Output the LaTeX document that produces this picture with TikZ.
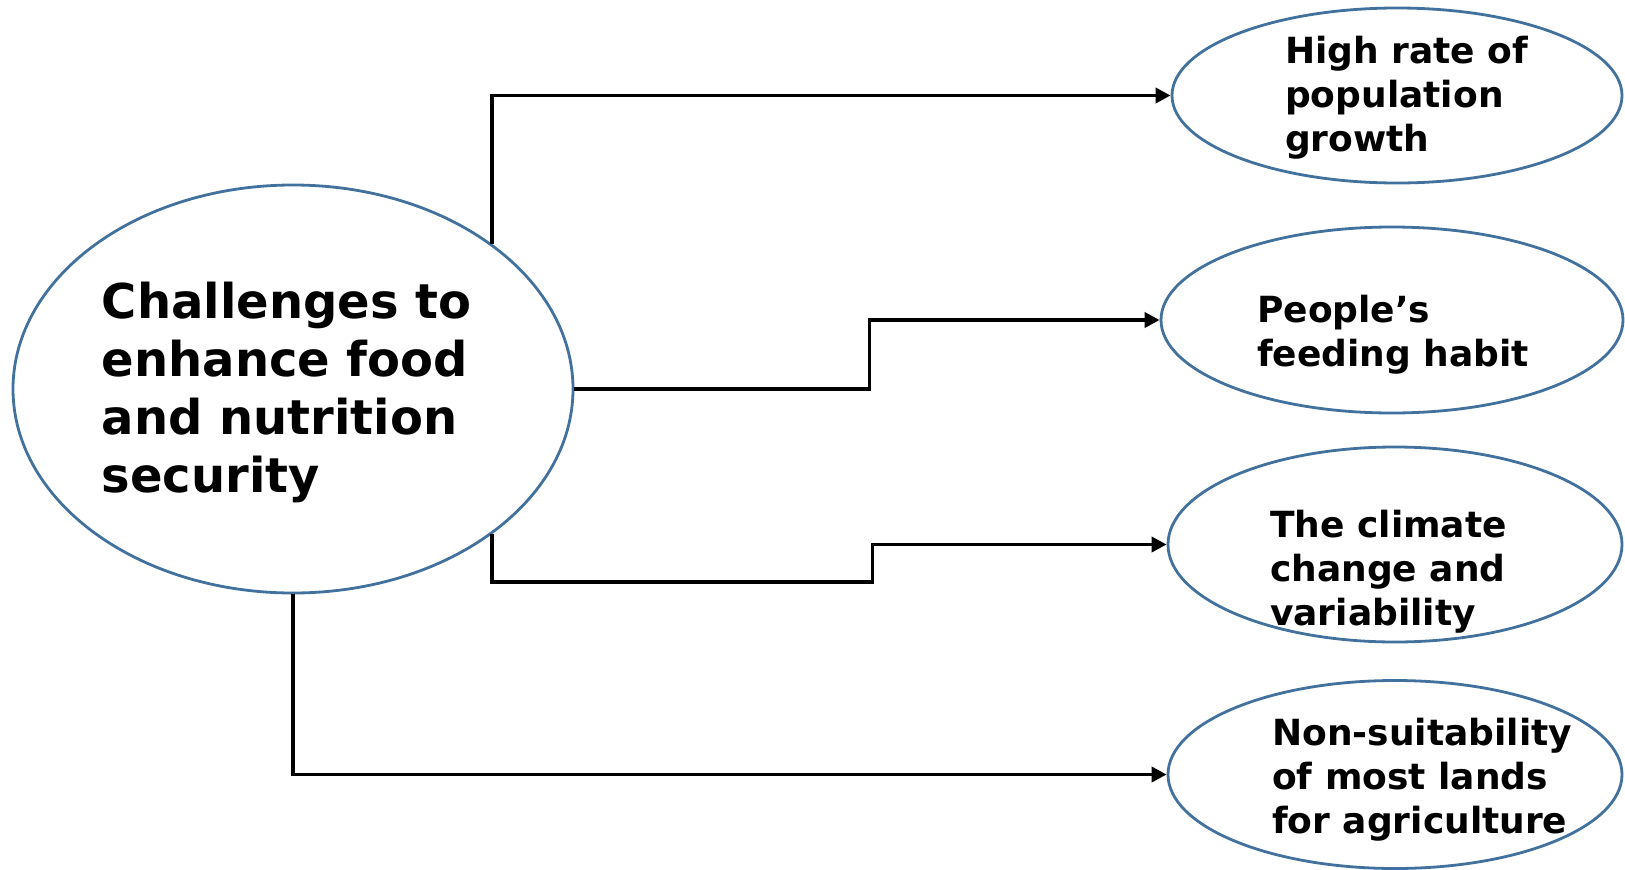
\documentclass[tikz,border=0pt]{standalone}
\usepackage{fontspec}
\setmainfont{DejaVu Sans}
\usetikzlibrary{shapes.geometric,arrows.meta}
\definecolor{rim}{RGB}{65,113,156}
\begin{document}
\begin{tikzpicture}[x=1pt,y=-1pt,
  oval/.style={ellipse,draw=rim,line width=2.8pt,inner sep=0pt,fill=white},
  link/.style={line width=3.8pt,draw=black,-{Triangle[length=15pt,width=15pt]}},
  bigtext/.style={anchor=base west,inner sep=0pt,align=left,
    font=\fontsize{48}{58}\selectfont\bfseries},
  smalltext/.style={anchor=base west,inner sep=0pt,align=left,
    font=\fontsize{36}{44}\selectfont\bfseries}]
\useasboundingbox (0,0) rectangle (1625,870);

% central challenge and the four causes
\node[oval,minimum width=560pt,minimum height=408pt] (c) at (293,389) {};
\node[oval,minimum width=450pt,minimum height=175pt] (e1) at (1397,95.5) {};
\node[oval,minimum width=462pt,minimum height=186pt] (e2) at (1392,320) {};
\node[oval,minimum width=454pt,minimum height=195pt] (e3) at (1395,544.5) {};
\node[oval,minimum width=454pt,minimum height=188pt] (e4) at (1395,774.5) {};

% connectors
\draw[link] (c.north east) |- (e1.west);
\draw[link] (c.east) -- ++(295,0) |- (e2.west);
\draw[link] (c.south east) -- ++(0,48) -- ++(380.5,0) |- (e3.west);
\draw[link] (c.south) |- (e4.west);

% labels (anchored at the baseline of their last line)
\node[bigtext] (ct) at (101.6,492) {Challenges to\\enhance food\\and nutrition\\security};
\node[smalltext] (t1) at (1285,151) {High rate of\\population\\growth};
\node[smalltext] (t2) at (1257,366) {People’s\\feeding habit};
\node[smalltext] (t3) at (1270,625) {The climate\\change and\\variability};
\node[smalltext] (t4) at (1272,833) {Non-suitability\\of most lands\\for agriculture};
\end{tikzpicture}
\end{document}
